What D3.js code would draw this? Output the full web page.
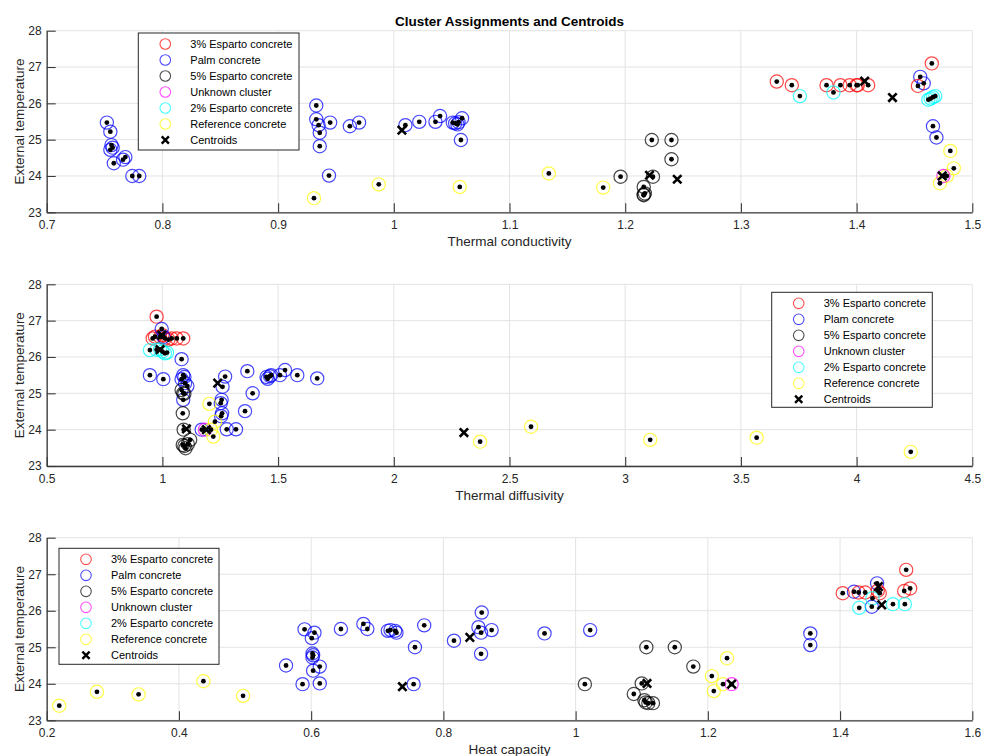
<!DOCTYPE html>
<html>
<head>
<meta charset="utf-8">
<script src="https://cdn.jsdelivr.net/npm/d3@7"></script>
<style>
  html, body { margin: 0; padding: 0; background: #fff; }
  svg { display: block; }
  text { font-family: "Liberation Sans", Arial, Helvetica, sans-serif; }
</style>
</head>
<body>
<svg id="chart" width="981" height="756"></svg>
<script>
// ---------------- DATA ----------------
const clusterNames = ["3% Esparto concrete", "Palm concrete", "5% Esparto concrete", "Unknown cluster", "2% Esparto concrete", "Reference concrete"];
const clusterNamesMid = ["3% Esparto concrete", "Plam concrete", "5% Esparto concrete", "Unknown cluster", "2% Esparto concrete", "Reference concrete"];
const clusterColors = ["#ff0000", "#0000ff", "#000000", "#ff00ff", "#00ffff", "#ffff00"];
const centroidLabel = "Centroids";
const titleText = "Cluster Assignments and Centroids";
const yLabel = "External temperature";

const tempTicks = [23, 24, 25, 26, 27, 28];
const conductivityTicks = [0.7, 0.8, 0.9, 1.0, 1.1, 1.2, 1.3, 1.4, 1.5];
const diffusivityTicks = [0.5, 1, 1.5, 2, 2.5, 3, 3.5, 4, 4.5];
const heatCapacityTicks = [0.2, 0.4, 0.6, 0.8, 1.0, 1.2, 1.4, 1.6];

// [x, temperature, cluster index]
const conductivityPoints = [
  [0.752,25.47,1],[0.755,25.22,1],[0.756,24.85,1],[0.757,24.78,1],[0.755,24.72,1],[0.758,24.35,1],[0.766,24.45,1],[0.768,24.52,1],[0.774,24.0,1],[0.780,24.0,1],
  [0.933,25.94,1],[0.933,25.56,1],[0.935,25.40,1],[0.936,25.19,1],[0.936,24.82,1],[0.945,25.47,1],[0.962,25.37,1],[0.970,25.47,1],[0.944,24.01,1],
  [1.010,25.40,1],[1.022,25.49,1],[1.036,25.49,1],[1.040,25.65,1],[1.051,25.47,1],[1.053,25.45,1],[1.055,25.42,1],[1.056,25.48,1],[1.059,25.59,1],[1.058,24.99,1],
  [1.455,26.73,1],[1.458,26.55,1],[1.466,25.37,1],[1.469,25.06,1],
  [1.331,26.60,0],[1.344,26.50,0],[1.374,26.50,0],[1.386,26.50,0],[1.394,26.50,0],[1.400,26.50,0],[1.401,26.50,0],[1.410,26.50,0],[1.465,27.10,0],[1.453,26.48,0],
  [1.351,26.20,4],[1.380,26.30,4],[1.462,26.10,4],[1.464,26.13,4],[1.466,26.17,4],[1.468,26.20,4],
  [1.223,24.99,2],[1.240,24.99,2],[1.240,24.46,2],[1.196,23.98,2],[1.224,23.98,2],[1.216,23.70,2],[1.216,23.49,2],[1.216,23.47,2],[1.217,23.52,2],
  [0.931,23.39,5],[0.987,23.77,5],[1.057,23.70,5],[1.134,24.07,5],[1.181,23.68,5],[1.481,24.69,5],[1.484,24.21,5],[1.478,24.0,5],[1.472,23.80,5],
  [1.475,24.0,3]
];
const conductivityCentroids = [[1.407,26.61],[1.007,25.26],[1.221,24.02],[1.474,24.00],[1.431,26.16],[1.245,23.91]];

const diffusivityPoints = [
  [0.975,27.11,0],[0.958,26.51,0],[0.968,26.56,0],[0.990,26.55,0],[1.011,26.51,0],[1.026,26.48,0],[1.040,26.51,0],[1.062,26.51,0],[1.090,26.51,0],[1.000,26.60,0],
  [0.997,26.77,1],[1.005,26.55,1],
  [0.946,26.19,4],[0.975,26.20,4],[0.990,26.21,4],[1.011,26.10,4],[1.020,26.12,4],[1.000,26.15,4],
  [1.083,25.94,1],[0.946,25.50,1],[1.004,25.39,1],[1.090,25.50,1],[1.083,25.39,1],[1.095,25.45,1],[1.098,25.28,1],[1.108,25.20,1],[1.090,24.82,1],
  [1.271,25.46,1],[1.260,25.18,1],[1.256,24.82,1],[1.252,24.73,1],[1.258,24.45,1],[1.254,24.37,1],[1.278,24.01,1],[1.318,24.01,1],[1.170,24.00,1],
  [1.367,25.61,1],[1.390,25.00,1],[1.357,24.51,1],[1.450,25.45,1],[1.455,25.40,1],[1.465,25.47,1],[1.470,25.50,1],[1.508,25.50,1],[1.530,25.64,1],[1.583,25.50,1],[1.669,25.41,1],
  [1.083,25.09,2],[1.090,25.00,2],[1.095,24.99,2],[1.088,24.45,2],[1.092,24.00,2],[1.088,23.58,2],[1.095,23.55,2],[1.100,23.49,2],[1.110,23.60,2],[1.120,23.72,2],
  [1.184,24.00,3],
  [1.203,24.71,5],[1.227,24.22,5],[1.220,23.81,5],[1.210,24.00,5],[2.373,23.67,5],[2.593,24.08,5],[3.108,23.72,5],[3.568,23.78,5],[4.234,23.39,5]
];
const diffusivityCentroids = [[0.997,26.60],[1.239,25.28],[1.104,24.02],[1.190,24.00],[0.990,26.20],[2.303,23.92]];

const heatCapacityPoints = [
  [0.219,23.40,5],[0.276,23.78,5],[0.339,23.71,5],[0.437,24.07,5],[0.497,23.67,5],[1.229,24.70,5],[1.206,24.21,5],[1.223,23.99,5],[1.209,23.80,5],
  [0.562,24.50,1],[0.587,23.99,1],[0.590,25.49,1],[0.605,25.40,1],[0.601,25.25,1],[0.602,24.83,1],[0.603,24.78,1],[0.602,24.72,1],[0.603,24.36,1],[0.613,24.47,1],[0.613,24.01,1],
  [0.645,25.50,1],[0.679,25.64,1],[0.685,25.50,1],[0.716,25.45,1],[0.720,25.47,1],[0.727,25.45,1],[0.729,25.40,1],[0.771,25.60,1],[0.757,25.00,1],[0.755,23.99,1],
  [0.816,25.18,1],[0.858,25.95,1],[0.853,25.55,1],[0.857,25.40,1],[0.857,24.82,1],[0.873,25.47,1],[0.953,25.38,1],[1.022,25.47,1],[1.355,25.38,1],[1.355,25.06,1],
  [1.421,26.52,1],[1.456,26.75,1],[1.448,26.11,1],
  [1.107,25.00,2],[1.150,25.00,2],[1.178,24.47,2],[1.014,23.99,2],[1.100,24.01,2],[1.088,23.72,2],[1.106,23.49,2],[1.110,23.47,2],[1.117,23.47,2],[1.104,23.55,2],
  [1.236,23.99,3],
  [1.500,27.12,0],[1.506,26.61,0],[1.497,26.54,0],[1.404,26.48,0],[1.428,26.50,0],[1.438,26.50,0],[1.460,26.48,0],[1.457,26.55,0],
  [1.429,26.08,4],[1.480,26.18,4],[1.498,26.18,4],[1.449,26.34,4]
];
const heatCapacityCentroids = [[1.458,26.66],[0.840,25.27],[1.108,24.01],[1.236,23.99],[1.463,26.16],[0.738,23.92]];

// ---------------- LAYOUT ----------------
const svg = d3.select("#chart");
const plotLeft = 46.7, plotRight = 972.3;
const fmt = d => String(+(+d).toFixed(2));

const panels = [
  { top: 30.7, bottom: 212.3, domain: [0.7, 1.5], ticks: conductivityTicks, pts: conductivityPoints, cents: conductivityCentroids,
    xLabel: "Thermal conductivity", legend: { x: 138.3, y: 33, w: 160.7, h: 117, names: clusterNames } },
  { top: 284.3, bottom: 466, domain: [0.5, 4.5], ticks: diffusivityTicks, pts: diffusivityPoints, cents: diffusivityCentroids,
    xLabel: "Thermal diffusivity", legend: { x: 771.7, y: 292.3, w: 160.6, h: 115, names: clusterNamesMid } },
  { top: 537.7, bottom: 720.3, domain: [0.2, 1.6], ticks: heatCapacityTicks, pts: heatCapacityPoints, cents: heatCapacityCentroids,
    xLabel: "Heat capacity", legend: { x: 59, y: 548.3, w: 160, h: 116, names: clusterNames } }
];

function xMarkPath(cx, cy, s) {
  return `M${cx - s},${cy - s}L${cx + s},${cy + s}M${cx - s},${cy + s}L${cx + s},${cy - s}`;
}

panels.forEach(p => {
  const x = d3.scaleLinear().domain(p.domain).range([plotLeft, plotRight]);
  const y = d3.scaleLinear().domain([23, 28]).range([p.bottom, p.top]);
  const g = svg.append("g");

  // grid
  g.append("g").selectAll("line.vg").data(p.ticks).join("line")
    .attr("x1", d => x(d)).attr("x2", d => x(d)).attr("y1", p.top).attr("y2", p.bottom)
    .attr("stroke", "#e3e3e3").attr("stroke-width", 1);
  g.append("g").selectAll("line.hg").data(tempTicks).join("line")
    .attr("x1", plotLeft).attr("x2", plotRight).attr("y1", d => y(d)).attr("y2", d => y(d))
    .attr("stroke", "#e3e3e3").attr("stroke-width", 1);

  // axes
  const xa = g.append("g").attr("transform", `translate(0,${p.bottom})`)
    .call(d3.axisBottom(x).tickValues(p.ticks).tickFormat(fmt).tickSizeInner(-9).tickSizeOuter(0).tickPadding(8));
  const ya = g.append("g").attr("transform", `translate(${plotLeft},0)`)
    .call(d3.axisLeft(y).tickValues(tempTicks).tickFormat(fmt).tickSizeInner(-9).tickSizeOuter(0).tickPadding(5));
  [xa, ya].forEach(a => {
    a.select(".domain").attr("stroke", "#3a3a3a").attr("stroke-width", 1.3);
    a.selectAll(".tick line").attr("stroke", "#3a3a3a").attr("stroke-width", 1.1);
    a.selectAll(".tick text").attr("fill", "#262626").style("font-size", "12px");
  });

  // x label
  g.append("text").attr("x", (plotLeft + plotRight) / 2).attr("y", p.bottom + 34)
    .attr("text-anchor", "middle").attr("fill", "#262626").style("font-size", "13.5px").text(p.xLabel);
  // y label
  g.append("text").attr("transform", `translate(19,${(p.top + p.bottom) / 2}) rotate(-90)`)
    .attr("text-anchor", "middle").attr("dy", "0.35em").attr("fill", "#262626").style("font-size", "13.5px").text(yLabel);

  // cluster circles
  g.append("g").selectAll("circle").data(p.pts).join("circle")
    .attr("cx", d => x(d[0])).attr("cy", d => y(d[1])).attr("r", 6.6)
    .attr("fill", "none").attr("stroke", d => clusterColors[d[2]]).attr("stroke-width", 1.2).attr("stroke-opacity", 0.72);
  // data dots
  g.append("g").selectAll("circle").data(p.pts).join("circle")
    .attr("cx", d => x(d[0])).attr("cy", d => y(d[1])).attr("r", 2.4).attr("fill", "#000");
  // centroids
  g.append("g").selectAll("path").data(p.cents).join("path")
    .attr("d", d => xMarkPath(x(d[0]), y(d[1]), 4.2))
    .attr("stroke", "#000").attr("stroke-width", 2.6).attr("fill", "none");

  // legend
  const L = p.legend;
  const lg = g.append("g");
  lg.append("rect").attr("x", L.x).attr("y", L.y).attr("width", L.w).attr("height", L.h)
    .attr("fill", "#fff").attr("stroke", "#262626").attr("stroke-width", 1);
  const entries = L.names.map((n, i) => ({ name: n, color: clusterColors[i], kind: "c" }))
    .concat([{ name: centroidLabel, color: "#000", kind: "x" }]);
  entries.forEach((e, i) => {
    const cy = L.y + 11 + i * 16;
    const mx = L.x + 27;
    if (e.kind === "c") {
      lg.append("circle").attr("cx", mx).attr("cy", cy).attr("r", 5.3)
        .attr("fill", "none").attr("stroke", e.color).attr("stroke-width", 1.1).attr("stroke-opacity", 0.7);
    } else {
      lg.append("path").attr("d", xMarkPath(mx, cy, 3.6)).attr("stroke", "#000").attr("stroke-width", 2.4);
    }
    lg.append("text").attr("x", L.x + 52).attr("y", cy).attr("dy", "0.35em")
      .attr("fill", "#000").style("font-size", "11px").text(e.name);
  });
});

// title
svg.append("text").attr("x", (plotLeft + plotRight) / 2).attr("y", 25.5)
  .attr("text-anchor", "middle").attr("font-weight", "bold").attr("fill", "#000")
  .style("font-size", "13.5px").text(titleText);
</script>
</body>
</html>
